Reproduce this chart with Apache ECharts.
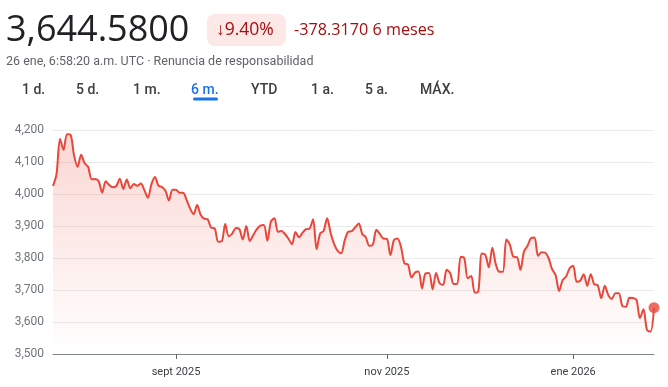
<!DOCTYPE html>
<html>
<head>
<meta charset="utf-8">
<script src="https://cdn.jsdelivr.net/npm/echarts@6/dist/echarts.min.js"></script>
<style>
  html, body { margin: 0; padding: 0; background: #ffffff; }
  #chart { width: 668px; height: 387px; }
</style>
</head>
<body>
<div id="chart"></div>
<script>
// ---- data ----
const prices = [
  4025, 4062, 4172, 4138, 4187, 4185, 4120, 4085, 4123, 4096,
  4085, 4046, 4047, 4040, 4004, 4040, 4028, 4021, 4025, 4048,
  4016, 4045, 4018, 4031, 4026, 4033, 4012, 3988, 4030, 4053,
  4026, 4022, 4010, 3980, 4013, 4013, 4004, 4004, 3982, 3955,
  3937, 3966, 3935, 3923, 3921, 3895, 3893, 3851, 3852, 3906,
  3868, 3876, 3894, 3891, 3858, 3900, 3853, 3872, 3890, 3901,
  3903, 3854, 3914, 3924, 3882, 3884, 3875, 3860, 3843, 3881,
  3865, 3879, 3890, 3892, 3921, 3827, 3876, 3885, 3924, 3878,
  3843, 3822, 3815, 3855, 3882, 3884, 3896, 3908, 3875, 3865,
  3838, 3842, 3888, 3875, 3861, 3860, 3809, 3856, 3861, 3835,
  3783, 3780, 3739, 3755, 3758, 3705, 3752, 3753, 3702, 3753,
  3721, 3716, 3763, 3753, 3719, 3719, 3804, 3800, 3737, 3744,
  3692, 3695, 3814, 3810, 3771, 3832, 3780, 3757, 3757, 3858,
  3842, 3804, 3803, 3763, 3820, 3838, 3862, 3864, 3807, 3818,
  3817, 3800, 3765, 3747, 3697, 3731, 3742, 3768, 3776, 3726,
  3729, 3749, 3713, 3749, 3718, 3715, 3674, 3713, 3684, 3672,
  3690, 3690, 3650, 3648, 3676, 3675, 3670, 3612, 3640, 3575,
  3570, 3644.58
];
const categories = prices.map((_, i) => i);
const tickLabels = ['sept 2025', 'nov 2025', 'ene 2026'];
const tickIndices = [35, 95, 148];
const yMin = 3500, yMax = 4200, yStep = 100;
const lastPrice = '3,644.5800';
const changePct = '9.40%';
const changeAbs = '-378.3170 6 meses';
const subtitle = '26 ene, 6:58:20 a.m. UTC · Renuncia de responsabilidad';
const tabs = ['1 d.', '5 d.', '1 m.', '6 m.', 'YTD', '1 a.', '5 a.', 'MÁX.'];
const activeTab = '6 m.';

// ---- chart ----
const chart = echarts.init(document.getElementById('chart'), null, { renderer: 'canvas' });
const FONT = 'Roboto, "Noto Sans", sans-serif';
const HFONT = '"Open Sans", Roboto, sans-serif';
const RED = '#e9473b';
const tabX = [22, 76, 133, 191, 251, 311, 365, 420];

const graphics = [
  { type: 'text', x: 6, y: 31, style: { text: lastPrice, font: '400 36px ' + HFONT, fill: '#202124', verticalAlign: 'middle' } },
  { type: 'rect', shape: { x: 207, y: 14, width: 79, height: 32, r: 8 }, style: { fill: '#fce8e6' } },
  { type: 'text', x: 216, y: 30, style: { text: '↓' + changePct, font: '400 17.5px ' + HFONT, fill: '#a50e0e', verticalAlign: 'middle' } },
  { type: 'text', x: 294, y: 30, style: { text: changeAbs, font: '400 16.2px ' + HFONT, fill: '#a50e0e', verticalAlign: 'middle' } },
  { type: 'text', x: 6, y: 62, style: { text: subtitle, font: '400 12.5px ' + FONT, fill: '#5f6368', verticalAlign: 'middle' } }
];
tabs.forEach((t, i) => {
  const active = t === activeTab;
  graphics.push({ type: 'text', x: tabX[i], y: 90, style: { text: t, font: '500 14px ' + FONT, fill: active ? '#1a73e8' : '#3c4043', verticalAlign: 'middle' } });
  if (active) {
    graphics.push({ type: 'rect', shape: { x: tabX[i] + 2, y: 97.5, width: 25, height: 3, r: 1.5 }, style: { fill: '#1a73e8' } });
  }
});

chart.setOption({
  animation: false,
  backgroundColor: '#ffffff',
  grid: { left: 53, right: 14, top: 130, bottom: 33, containLabel: false },
  graphic: graphics,
  xAxis: {
    type: 'category',
    data: categories,
    boundaryGap: false,
    axisLine: { show: true, lineStyle: { color: '#80868b', width: 1 } },
    axisTick: {
      show: true, length: 5, alignWithLabel: true,
      interval: (idx) => tickIndices.includes(idx),
      lineStyle: { color: '#5f6368', width: 1 }
    },
    axisLabel: {
      interval: (idx) => tickIndices.includes(idx),
      formatter: (v) => { const k = tickIndices.indexOf(Number(v)); return k >= 0 ? tickLabels[k] : ''; },
      color: '#3c4043', fontSize: 11, fontFamily: FONT, margin: 13
    },
    splitLine: { show: false }
  },
  yAxis: {
    type: 'value',
    min: yMin, max: yMax, interval: yStep,
    axisLine: { show: false },
    axisTick: { show: false },
    axisLabel: {
      formatter: (v) => v.toLocaleString('en-US'),
      color: '#70757a', fontSize: 12, fontFamily: FONT, margin: 9
    },
    splitLine: { show: true, lineStyle: { color: '#ebebeb', width: 1 } }
  },
  series: [
    {
      type: 'line',
      data: prices,
      showSymbol: false,
      smooth: 0.3,
      lineStyle: { color: RED, width: 2 },
      areaStyle: {
        color: new echarts.graphic.LinearGradient(0, 0, 0, 1, [
          { offset: 0, color: 'rgba(234,67,53,0.30)' },
          { offset: 1, color: 'rgba(234,67,53,0.0)' }
        ])
      },
      z: 2
    },
    {
      type: 'scatter',
      data: [[prices.length - 1, prices[prices.length - 1]]],
      symbolSize: 11,
      itemStyle: { color: RED },
      z: 3
    }
  ]
});
</script>
</body>
</html>
